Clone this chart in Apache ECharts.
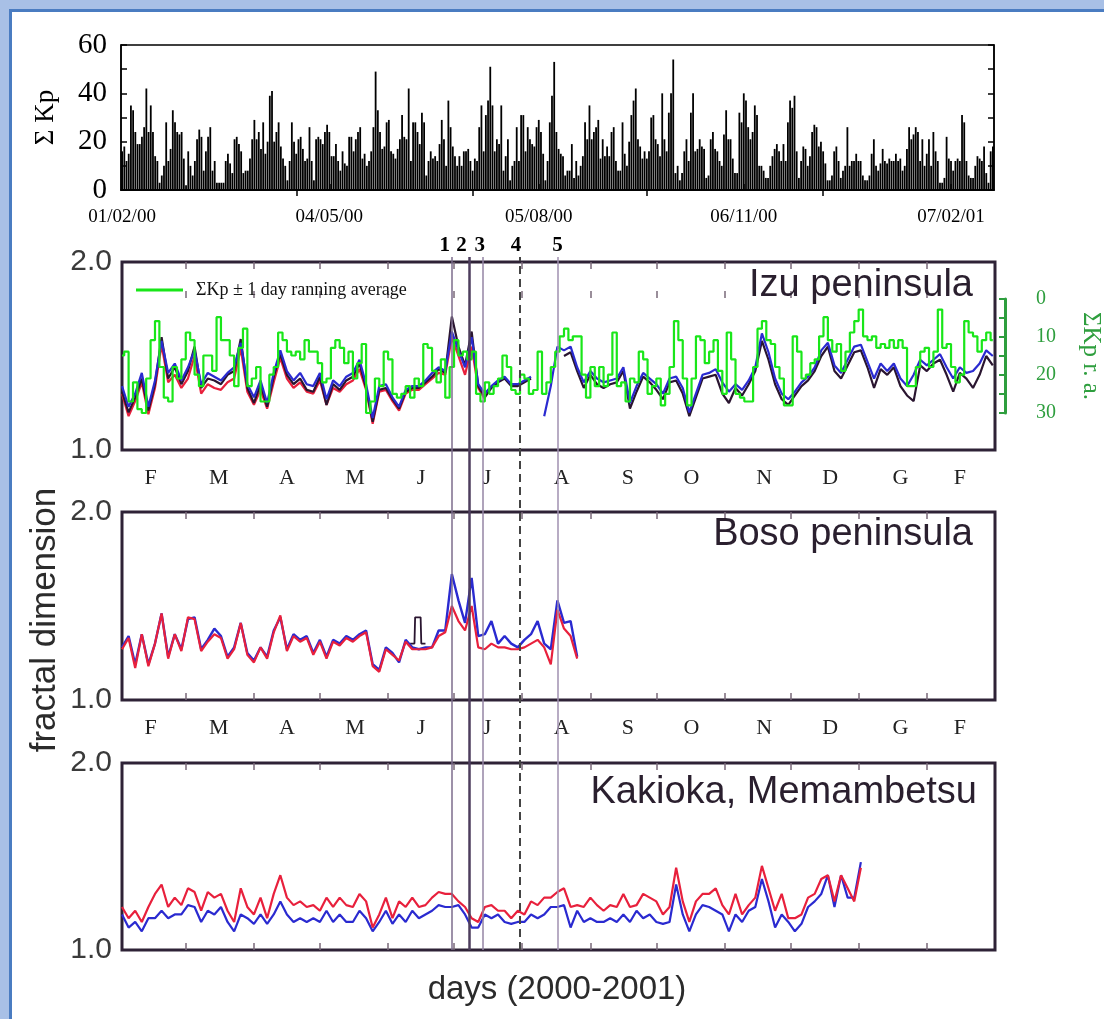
<!DOCTYPE html>
<html><head><meta charset="utf-8">
<script src="https://cdn.jsdelivr.net/npm/echarts@6/dist/echarts.min.js"></script>
<style>
html,body{margin:0;padding:0;background:#fff;width:1104px;height:1019px;overflow:hidden}
#bandTop{position:absolute;left:0;top:0;width:1104px;height:9px;background:#a8c0e6}
#bandLeft{position:absolute;left:0;top:0;width:9px;height:1019px;background:#a8c0e6}
#lineTop{position:absolute;left:9px;top:9px;width:1095px;height:3px;background:#4a7cc1}
#lineLeft{position:absolute;left:9px;top:9px;width:3px;height:1010px;background:#4a7cc1}
#chart{position:absolute;left:0;top:0;width:1104px;height:1019px}
</style></head><body>
<div id="bandTop"></div><div id="bandLeft"></div><div id="lineTop"></div><div id="lineLeft"></div>
<div id="chart"></div>
<script>
// ---------- DATA ----------
const kpValues = [
16,18,12,15,35,33,24,19,19,22,26,42,24,35,24,14,12,3,6,10,28,12,17,33,28,24,23,24,13,2,16,10,6,12,21,25,22,8,16,22,26,8,12,3,3,3,3,12,15,11,7,21,22,19,16,7,8,8,13,21,29,21,24,17,28,15,20,39,41,20,24,28,18,13,10,4,12,28,20,15,21,22,
17,12,13,26,12,4,21,22,21,19,24,27,24,14,14,19,12,8,16,11,10,22,22,16,21,24,26,13,15,10,12,16,26,49,33,24,17,18,28,29,16,15,13,17,21,31,22,21,42,12,28,28,24,19,32,28,6,12,16,13,14,12,19,29,21,10,37,26,18,14,10,14,10,16,16,17,12,8,13,
12,26,35,16,31,37,51,35,16,21,19,35,8,14,21,4,10,12,26,12,31,31,16,26,21,19,18,26,29,24,15,4,12,28,39,53,24,17,15,14,6,8,8,19,5,12,6,10,14,28,21,35,21,24,26,29,13,21,14,18,14,24,26,12,8,8,28,15,10,20,31,37,42,21,18,13,16,13,16,30,
31,21,19,14,40,21,16,32,40,54,7,10,4,7,16,21,12,32,40,16,17,21,18,17,5,6,21,24,17,16,12,10,23,33,21,21,13,7,7,32,28,40,37,26,21,24,35,31,10,10,8,5,5,10,14,17,19,16,12,19,12,28,37,34,39,16,5,12,18,17,10,14,24,27,26,18,20,16,11,4,
4,6,16,18,12,5,8,10,26,10,12,12,15,12,12,6,4,4,6,15,21,10,8,11,17,12,11,13,12,12,15,12,13,8,10,17,26,21,23,26,24,12,21,10,15,21,10,24,16,12,3,3,5,22,13,12,8,12,13,12,31,28,12,6,5,5,10,14,13,12,18,7,3,16,18
];
const kpTickIdx = [0, 94, 189, 282, 376];
const kpTickLabels = ['01/02/00','04/05/00','05/08/00','06/11/00','07/02/01'];
const kpTopTickIdx = [79, 159, 238, 318];

const monthStartDays = [29,60,90,121,151,182,213,243,274,304,335,366];
const monthLabelDays = [13,44,75,106,136,166,200,230,259,292,322,354,381];
const monthLabels = ['F','M','A','M','J','J','A','S','O','N','D','G','F'];

const eventDays = [150,158,164,181,198];
const eventLabels = ['1','2','3','4','5'];

const LINE_STEP = 3;   // days between samples of fractal-dimension series
const GREEN_STEP = 2;  // days between samples of the Kp running average

const izuBlue = [1.34,1.23,1.30,1.41,1.23,1.37,1.58,1.41,1.46,1.37,
 1.44,1.53,1.35,1.41,1.39,1.37,1.41,1.44,1.57,1.35,
 1.28,1.37,1.25,1.41,1.53,1.42,1.37,1.41,1.35,1.34,
 1.41,1.27,1.37,1.34,1.39,1.41,1.48,1.35,1.17,1.34,
 1.35,1.28,1.23,1.32,1.34,1.34,1.37,1.41,1.44,1.42,
 1.63,1.53,1.44,1.60,1.35,1.30,1.34,1.37,1.39,1.35,
 1.35,1.37,1.39,null,1.18,1.34,1.55,1.53,1.55,1.44,
 1.36,1.42,1.38,1.36,1.37,1.38,1.44,1.25,1.34,1.41,
 1.38,1.35,1.30,1.38,1.39,1.33,1.20,1.30,1.40,1.41,
 1.43,1.36,1.31,1.35,1.32,1.37,1.44,1.62,1.52,1.38,
 1.30,1.27,1.31,1.36,1.39,1.44,1.53,1.57,1.45,1.41,
 1.48,1.55,1.56,1.47,1.38,1.46,1.42,1.46,1.38,1.34,
 1.40,1.48,1.45,1.48,1.51,1.44,1.38,1.44,1.41,1.42,
 1.46,1.53,1.50];
const izuBlack = [1.31,1.20,1.28,1.38,1.21,1.35,1.60,1.38,1.44,1.35,
 1.42,1.55,1.33,1.38,1.37,1.35,1.40,1.42,1.59,1.33,
 1.25,1.35,1.23,1.39,1.51,1.40,1.35,1.38,1.32,1.31,
 1.39,1.24,1.35,1.32,1.37,1.39,1.46,1.33,1.15,1.32,
 1.33,1.27,1.22,1.31,1.33,1.33,1.36,1.39,1.43,1.41,
 1.71,1.55,1.45,1.63,1.34,1.28,1.33,1.36,1.38,1.34,
 1.34,1.36,1.38,null,null,null,null,1.50,1.52,1.42,
 1.33,1.40,1.35,1.33,1.35,1.36,1.42,1.22,1.31,1.39,
 1.36,1.32,1.27,1.36,1.37,1.30,1.18,1.28,1.38,1.39,
 1.40,1.30,1.25,1.33,1.29,1.35,1.42,1.58,1.48,1.35,
 1.27,1.24,1.29,1.34,1.37,1.42,1.50,1.55,1.42,1.38,
 1.45,1.52,1.53,1.44,1.33,1.43,1.40,1.44,1.34,1.29,
 1.26,1.45,1.42,1.46,1.48,1.40,1.31,1.41,1.38,1.33,
 1.40,1.50,1.45];
const izuRed = [1.30,1.18,1.26,1.36,1.19,1.33,1.56,1.36,1.40,1.33,
 1.38,1.50,1.30,1.35,1.33,1.32,1.36,1.38,1.54,1.31,
 1.24,1.32,1.22,1.36,1.49,1.38,1.33,1.36,1.31,1.30,
 1.37,1.24,1.33,1.31,1.35,1.37,1.43,1.32,1.14,1.31,
 1.32,1.26,1.21,1.30,1.32,1.32,1.35,1.38,1.41,1.40,
 1.60,1.50,1.40,1.55,1.33,1.27];
const greenKp = [15,14,27,22,29,30,21,11,6,18,
 26,27,18,21,16,9,11,20,23,15,
 15,19,5,11,11,15,23,13,8,23,
 21,18,27,27,20,18,9,11,14,15,
 14,16,11,14,14,17,22,21,13,11,
 13,17,14,21,17,12,30,27,21,23,
 14,16,25,26,25,23,26,21,23,12,
 13,19,22,16,26,18,11,15,14,16,
 14,25,27,22,25,23,21,15,18,24,
 25,20,21,25,24,14,25,22,18,14,
 10,8,11,10,10,20,26,18,23,18,
 23,20,9,23,22,27,21,22,14,16,
 25,23,21,28,25,18,6,11,21,28,
 21,10,11,17,14,11,19,25,9,16,
 25,26,27,27,18,8,6,11,12,18,
 21,28,28,10,14,21,20,17,16,10,
 5,11,14,12,19,14,9,6,3,10,
 11,10,13,12,13,11,13,11,13,23,
 23,18,14,13,18,14,3,13,12,18,
 22,20,6,9,10,14,11,9,11];

const bosoBlue = [1.28,1.34,1.19,1.35,1.19,1.30,1.46,1.23,1.35,1.27,
 1.43,1.44,1.27,1.32,1.38,1.34,1.23,1.28,1.41,1.25,
 1.21,1.28,1.23,1.37,1.44,1.27,1.35,1.32,1.34,1.25,
 1.32,1.23,1.32,1.30,1.34,1.32,1.35,1.37,1.19,1.16,
 1.28,1.25,1.20,1.32,1.28,1.27,1.28,1.28,1.37,1.37,
 1.67,1.53,1.41,1.65,1.34,1.35,1.42,1.30,1.34,1.30,
 1.28,1.32,1.35,1.42,1.30,1.27,1.53,1.41,1.42,1.23];
const bosoRed = [1.27,1.33,1.17,1.35,1.18,1.30,1.46,1.22,1.35,1.26,
 1.44,1.43,1.26,1.31,1.35,1.33,1.22,1.27,1.41,1.24,
 1.20,1.28,1.22,1.36,1.45,1.26,1.34,1.31,1.33,1.24,
 1.31,1.22,1.31,1.29,1.33,1.31,1.34,1.36,1.18,1.15,
 1.27,1.24,1.21,1.31,1.27,1.27,1.27,1.28,1.34,1.36,
 1.50,1.42,1.37,1.50,1.28,1.27,1.30,1.28,1.28,1.27,
 1.27,1.28,1.30,1.32,1.28,1.19,1.48,1.38,1.34,1.22];
const bosoBlackDays = [131,133,133.3,135.8,136.1,138];
const bosoBlackVals = [1.30,1.30,1.44,1.44,1.30,1.30];

const kakRed = [1.23,1.17,1.21,1.15,1.23,1.30,1.35,1.23,1.28,1.24,
 1.33,1.31,1.21,1.31,1.28,1.30,1.21,1.15,1.33,1.23,
 1.19,1.28,1.17,1.30,1.40,1.28,1.24,1.26,1.23,1.24,
 1.21,1.28,1.23,1.28,1.24,1.23,1.30,1.26,1.12,1.19,
 1.28,1.17,1.26,1.23,1.28,1.23,1.24,1.28,1.31,1.30,
 1.30,1.26,1.23,1.17,1.15,1.23,1.24,1.21,1.21,1.17,
 1.21,1.19,1.26,1.24,1.28,1.28,1.31,1.33,1.23,1.24,
 1.23,1.28,1.24,1.21,1.24,1.23,1.30,1.23,1.24,1.30,
 1.28,1.26,1.19,1.23,1.44,1.26,1.15,1.26,1.30,1.30,
 1.33,1.24,1.19,1.30,1.19,1.24,1.28,1.45,1.33,1.21,
 1.30,1.17,1.17,1.19,1.28,1.30,1.38,1.40,1.26,1.40,
 1.33,1.26,1.44];
const kakBlue = [1.19,1.12,1.15,1.10,1.17,1.17,1.21,1.17,1.19,1.19,
 1.24,1.23,1.15,1.21,1.19,1.23,1.15,1.10,1.19,1.17,
 1.14,1.19,1.14,1.19,1.26,1.19,1.15,1.17,1.15,1.17,
 1.15,1.21,1.15,1.19,1.15,1.15,1.21,1.17,1.10,1.15,
 1.21,1.14,1.19,1.15,1.21,1.17,1.19,1.21,1.24,1.23,
 1.23,1.24,1.19,1.12,1.12,1.19,1.17,1.19,1.15,1.14,
 1.15,1.15,1.19,1.17,1.19,1.23,1.23,1.24,1.12,1.21,
 1.15,1.17,1.15,1.15,1.17,1.15,1.19,1.15,1.21,1.17,
 1.19,1.15,1.14,1.15,1.35,1.19,1.10,1.19,1.24,1.23,
 1.21,1.19,1.10,1.19,1.15,1.21,1.23,1.38,1.26,1.12,
 1.19,1.15,1.10,1.14,1.23,1.26,1.30,1.40,1.23,1.40,
 1.28,1.28,1.47];

// ---------- STYLE ----------
const SERIF = "'Liberation Serif', 'DejaVu Serif', serif";
const SANS = "'Liberation Sans', Arial, sans-serif";
const FRAME = '#2e2236';
const C_RED = '#e8203c', C_BLUE = '#2a2ad0', C_BLACK = '#2a1530', C_GREEN = '#19e619', C_AXGREEN = '#2e9e3e';
const eventStyles = [
  {color:'#7d6d8d', width:1.5, type:'solid', offset:[-7,0]},
  {color:'#4d3d5d', width:2.5, type:'solid', offset:[-8,0]},
  {color:'#9484a4', width:1.5, type:'solid', offset:[-3,0]},
  {color:'#444444', width:2,   type:[8,5],   offset:[-4,0]},
  {color:'#a090b0', width:1.5, type:'solid', offset:[0,0]}
];

function pairs(vals, step) { return vals.map((v, i) => [i * step, v === null ? '-' : v]); }
function zip(xs, ys) { return xs.map((x, i) => [x, ys[i]]); }

const DAYS_MAX = 397;
const panelTops = [262, 512, 763];
const PANEL_H = 188;

const grids = [
  {left:121, top:45, width:873, height:145, show:true, borderColor:'#000', borderWidth:1.5},
  {left:122, top:panelTops[0], width:873, height:PANEL_H, show:true, borderColor:FRAME, borderWidth:3},
  {left:122, top:panelTops[1], width:873, height:PANEL_H, show:true, borderColor:FRAME, borderWidth:3},
  {left:122, top:panelTops[2], width:873, height:187, show:true, borderColor:FRAME, borderWidth:3},
  {left:1005, top:299, width:20, height:114},
  {left:122, top:257, width:873, height:693}
];

const kpCats = kpValues.map((_, i) => String(i));

function monthAxis(gridIndex, position, showLabels) {
  return {
    type:'value', gridIndex, position, min:0, max:DAYS_MAX,
    axisLine:{show:false}, splitLine:{show:false},
    axisTick:{show:true, inside:true, length:7, customValues:monthStartDays, lineStyle:{color:'#7a6a7a', width:1.5}},
    axisLabel:{show:showLabels, customValues:monthLabelDays, margin:17,
      formatter:(v) => { const k = monthLabelDays.indexOf(Math.round(v)); return k >= 0 ? monthLabels[k] : ''; },
      fontFamily:SERIF, fontSize:22, color:'#222'}
  };
}
function fdAxis(gridIndex) {
  return {
    type:'value', gridIndex, min:1, max:2, interval:1,
    axisLine:{show:false}, axisTick:{show:false}, splitLine:{show:false},
    axisLabel:{formatter:(v)=>v.toFixed(1), fontFamily:SANS, fontSize:30, color:'#3a3a3a', margin:10}
  };
}

const xAxes = [
  {type:'category', gridIndex:0, data:kpCats, boundaryGap:true,
   axisLine:{show:true, lineStyle:{color:'#000', width:1.5}},
   axisTick:{show:true, inside:true, length:6, alignWithLabel:true, interval:(i)=>kpTickIdx.includes(i), lineStyle:{color:'#000', width:1.5}},
   axisLabel:{show:true, interval:(i)=>kpTickIdx.includes(i), margin:18,
     formatter:(v, i)=>{ const k = kpTickIdx.indexOf(Number(v)); return k>=0 ? kpTickLabels[k] : ''; },
     fontFamily:SERIF, fontSize:19, color:'#000'}},
  {type:'category', gridIndex:0, data:kpCats, position:'top', boundaryGap:true,
   axisLine:{show:true, lineStyle:{color:'#000', width:1.5}},
   axisTick:{show:true, inside:true, length:6, alignWithLabel:true, interval:(i)=>kpTopTickIdx.includes(i), lineStyle:{color:'#000', width:1.5}},
   axisLabel:{show:false}},
  monthAxis(1, 'bottom', true), monthAxis(1, 'top', false),
  monthAxis(2, 'bottom', true), monthAxis(2, 'top', false),
  monthAxis(3, 'bottom', false), monthAxis(3, 'top', false),
  {type:'value', gridIndex:4, show:false, min:0, max:1},
  {type:'value', gridIndex:5, show:false, min:0, max:DAYS_MAX}
];

const yAxes = [
  {type:'value', gridIndex:0, min:0, max:60, interval:10, position:'left',
   axisLine:{show:true, lineStyle:{color:'#000', width:1.5}},
   axisTick:{show:true, inside:true, length:6, lineStyle:{color:'#000', width:1.5}},
   splitLine:{show:false},
   axisLabel:{formatter:(v)=> v % 20 === 0 ? String(v) : '', fontFamily:SERIF, fontSize:29, color:'#000', margin:14},
   name:'Σ Kp', nameLocation:'middle', nameRotate:90, nameGap:62,
   nameTextStyle:{fontFamily:SERIF, fontSize:27, color:'#000'}},
  {type:'value', gridIndex:0, min:0, max:60, interval:10, position:'right',
   axisLine:{show:true, lineStyle:{color:'#000', width:1.5}},
   axisTick:{show:true, inside:true, length:6, lineStyle:{color:'#000', width:1.5}},
   splitLine:{show:false}, axisLabel:{show:false}},
  fdAxis(1),
  {type:'value', gridIndex:1, show:false, inverse:true, min:-9.4, max:39.65},
  fdAxis(2),
  fdAxis(3),
  {type:'value', gridIndex:4, position:'right', inverse:true, min:0, max:30, interval:5,
   axisLine:{show:true, lineStyle:{color:C_AXGREEN, width:3}},
   axisTick:{show:true, inside:true, length:6, lineStyle:{color:C_AXGREEN, width:2}},
   splitLine:{show:false},
   axisLabel:{formatter:(v)=> v % 10 === 0 ? String(v) : '', fontFamily:SERIF, fontSize:20, color:C_AXGREEN, margin:12},
   name:'ΣKp r. a.', nameLocation:'middle', nameRotate:-90, nameGap:54,
   nameTextStyle:{fontFamily:SERIF, fontSize:25, color:C_AXGREEN}},
  {type:'value', gridIndex:5, show:false, min:0, max:1}
];

function lineSeries(name, xi, yi, data, color, width, z) {
  return {name, type:'line', xAxisIndex:xi, yAxisIndex:yi, data, showSymbol:false, symbol:'none',
          connectNulls:false, lineStyle:{color, width}, itemStyle:{color}, z: z || 2, silent:true};
}

const GREEN_NAME = 'ΣKp ± 1 day ranning average';

const series = [
  {type:'bar', xAxisIndex:0, yAxisIndex:0, data:kpValues, barWidth:1.8, itemStyle:{color:'#000'}, silent:true},
  lineSeries('izuRed', 2, 2, pairs(izuRed, LINE_STEP), C_RED, 2.2),
  lineSeries('izuBlack', 2, 2, pairs(izuBlack, LINE_STEP), C_BLACK, 2.2),
  lineSeries('izuBlue', 2, 2, pairs(izuBlue, LINE_STEP), C_BLUE, 2.2),
  Object.assign(lineSeries(GREEN_NAME, 2, 3, pairs(greenKp, GREEN_STEP), C_GREEN, 2.2, 4), {step:'middle'}),
  lineSeries('bosoBlack', 4, 4, zip(bosoBlackDays, bosoBlackVals), C_BLACK, 1.8),
  lineSeries('bosoBlue', 4, 4, pairs(bosoBlue, LINE_STEP), C_BLUE, 2.4),
  lineSeries('bosoRed', 4, 4, pairs(bosoRed, LINE_STEP), C_RED, 2.2),
  lineSeries('kakBlue', 6, 5, pairs(kakBlue, LINE_STEP), C_BLUE, 2.2),
  lineSeries('kakRed', 6, 5, pairs(kakRed, LINE_STEP), C_RED, 2.2),
  {type:'line', xAxisIndex:8, yAxisIndex:6, data:[[0,'-']], showSymbol:false, silent:true},
  {type:'line', xAxisIndex:9, yAxisIndex:7, data:[[0,'-']], showSymbol:false, silent:true, z:5,
   markLine:{symbol:'none', silent:true, animation:false,
     data: eventDays.map((d, i) => ({
       xAxis:d, name:eventLabels[i],
       lineStyle:{color:eventStyles[i].color, width:eventStyles[i].width, type:eventStyles[i].type},
       label:{show:true, position:'end', formatter:'{b}', distance:1, offset:eventStyles[i].offset,
              fontFamily:SERIF, fontWeight:'bold', fontSize:21, color:'#000'}
     }))}}
];

const option = {
  animation:false,
  backgroundColor:'transparent',
  grid:grids, xAxis:xAxes, yAxis:yAxes, series,
  legend:{data:[GREEN_NAME], left:131, top:276, icon:'rect', itemWidth:47, itemHeight:3,
          textStyle:{fontFamily:SERIF, fontSize:18, color:'#111', padding:[0,0,0,8]}, selectedMode:false},
  title:[
    {text:'Izu peninsula', right:131, top:267, padding:0, textStyle:{fontFamily:SANS, fontSize:38, fontWeight:'normal', color:'#2a1f2e'}},
    {text:'Boso peninsula', right:131, top:516, padding:0, textStyle:{fontFamily:SANS, fontSize:38, fontWeight:'normal', color:'#2a1f2e'}},
    {text:'Kakioka, Memambetsu', right:127, top:774, padding:0, textStyle:{fontFamily:SANS, fontSize:38, fontWeight:'normal', color:'#2a1f2e'}}
  ],
  graphic:[
    {type:'text', x:45, y:620, rotation:Math.PI/2, style:{text:'fractal dimension', font:'35px "Liberation Sans", Arial, sans-serif', fill:'#2b2b2b', textAlign:'center', textVerticalAlign:'middle'}},
    {type:'text', x:557, y:990, style:{text:'days (2000-2001)', font:'33px "Liberation Sans", Arial, sans-serif', fill:'#2b2b2b', textAlign:'center', textVerticalAlign:'middle'}}
  ]
};

const chart = echarts.init(document.getElementById('chart'), null, {renderer:'canvas'});
chart.setOption(option);
</script>
</body></html>
